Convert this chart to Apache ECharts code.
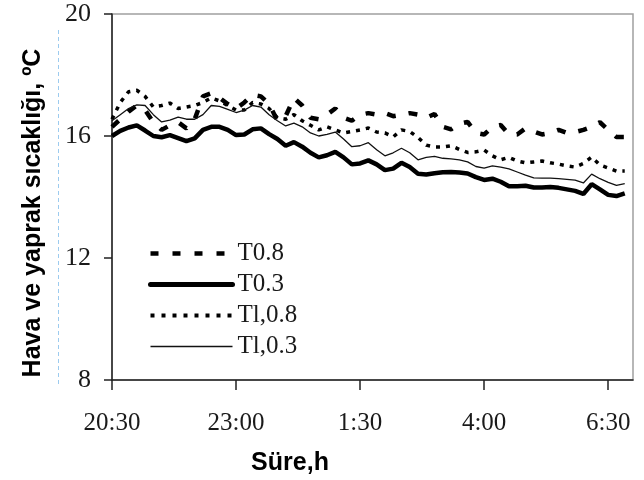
<!DOCTYPE html>
<html>
<head>
<meta charset="utf-8">
<script src="https://cdn.jsdelivr.net/npm/echarts@6/dist/echarts.min.js"></script>
<style>
html,body{margin:0;padding:0;background:#fff;}
#chart{width:644px;height:480px;}
</style>
</head>
<body>
<div id="chart"></div>
<script>
// minutes since 20:30
var minutes = [0,10,20,30,40,50,60,70,80,90,100,110,120,130,140,150,160,170,180,190,200,210,220,230,240,250,260,270,280,290,300,310,320,330,340,350,360,370,380,390,400,410,420,430,440,450,460,470,480,490,500,510,520,530,540,550,560,570,580,590,600,610,620];
var tickMinutes = [0,150,300,450,600];
var tickLabels = ['20:30','23:00','1:30','4:00','6:30'];
var seriesNames = ['T0.8','T0.3','Tl,0.8','Tl,0.3'];

var T08 = [16.3,16.55,16.8,17.0,16.85,16.45,16.2,16.35,16.45,16.25,16.55,17.3,17.4,17.25,17.05,16.9,17.1,17.35,17.3,17.05,16.5,16.65,17.25,17.0,16.6,16.55,16.7,16.9,16.6,16.5,16.7,16.75,16.7,16.75,16.65,16.7,16.75,16.7,16.6,16.72,16.3,16.22,16.4,16.46,16.1,16.05,16.3,16.36,16.05,16.05,16.25,16.15,16.05,16.1,16.2,16.1,16.13,16.2,16.3,16.45,16.2,15.97,15.97];
var T03 = [16.0,16.17,16.28,16.35,16.18,16.0,15.96,16.03,15.93,15.83,15.92,16.2,16.3,16.3,16.2,16.03,16.05,16.22,16.25,16.06,15.9,15.68,15.8,15.65,15.45,15.3,15.37,15.48,15.3,15.07,15.1,15.2,15.07,14.88,14.93,15.12,14.98,14.76,14.74,14.78,14.81,14.82,14.8,14.77,14.65,14.56,14.6,14.5,14.35,14.35,14.37,14.31,14.31,14.33,14.3,14.25,14.2,14.1,14.42,14.25,14.07,14.03,14.12];
var Tl08 = [16.55,17.1,17.45,17.5,17.3,16.95,17.0,17.08,16.9,16.95,17.0,17.1,17.25,17.15,17.0,16.85,16.85,17.1,17.05,16.9,16.6,16.55,16.7,16.5,16.35,16.2,16.3,16.2,16.1,16.15,16.2,16.26,16.13,16.1,15.97,16.2,16.15,15.95,15.7,15.64,15.64,15.68,15.56,15.46,15.48,15.54,15.35,15.22,15.3,15.18,15.12,15.15,15.18,15.12,15.08,15.02,14.98,15.1,15.31,15.05,14.95,14.85,14.85];
var Tl03 = [16.5,16.7,16.9,17.02,17.0,16.7,16.46,16.52,16.62,16.55,16.55,16.7,17.0,16.97,16.87,16.77,16.85,17.0,16.95,16.7,16.5,16.33,16.42,16.3,16.1,16.0,16.05,16.13,15.9,15.65,15.68,15.78,15.55,15.35,15.45,15.6,15.45,15.22,15.3,15.33,15.27,15.25,15.22,15.15,15.0,14.95,15.02,14.98,14.92,14.82,14.72,14.63,14.62,14.62,14.6,14.58,14.55,14.46,14.75,14.6,14.48,14.38,14.44];
var yTicks = [8,12,16,20];

function pairs(vals){ return minutes.map(function(m,i){ return [m, vals[i]]; }); }

var chart = echarts.init(document.getElementById('chart'), null, {renderer:'canvas'});
var serif = '"Liberation Serif","DejaVu Serif",serif';

var styles = [
  {color:'#000', width:4.5, type:[9,13]},
  {color:'#000', width:4.5, type:'solid'},
  {color:'#000', width:3.5, type:[4,6]},
  {color:'#111', width:1.3, type:'solid'}
];
var legendStyles = [
  {color:'#000', width:4.5, type:[8,14]},
  {color:'#000', width:5, type:'solid', cap:'round'},
  {color:'#000', width:4, type:[4,7]},
  {color:'#111', width:1.5, type:'solid'}
];

chart.setOption({
  animation:false,
  backgroundColor:'#ffffff',
  grid:{left:112, right:11, top:14, bottom:100, show:true, borderColor:'#a0a0a0', borderWidth:1.5, backgroundColor:'transparent'},
  legend:{
    data:seriesNames.map(function(n,i){ return {name:n, lineStyle:legendStyles[i], itemStyle:{opacity:0}}; }),
    orient:'vertical', left:143, top:236,
    itemWidth:82, itemHeight:20, itemGap:6,
    itemStyle:{opacity:0},
    textStyle:{fontFamily:serif, fontSize:25, color:'#1a1a1a', lineHeight:21}
  },
  xAxis:{
    type:'value', min:0, max:630, interval:150,
    axisLine:{lineStyle:{color:'#222', width:1.5}},
    axisTick:{show:true, inside:false, length:10, lineStyle:{color:'#222', width:1.5}, customValues:tickMinutes},
    axisLabel:{margin:31, fontFamily:serif, fontSize:25, color:'#1a1a1a', customValues:tickMinutes,
      formatter:function(v){ var i = tickMinutes.indexOf(v); return i>=0 ? tickLabels[i] : ''; }},
    splitLine:{show:false}
  },
  yAxis:{
    type:'value', min:yTicks[0], max:yTicks[yTicks.length-1], interval:4,
    axisLine:{show:true, lineStyle:{color:'#222', width:1.5}},
    axisTick:{show:true, inside:false, length:8, lineStyle:{color:'#222', width:1.5}},
    axisLabel:{margin:21, fontFamily:serif, fontSize:26, color:'#1a1a1a'},
    splitLine:{show:false}
  },
  graphic:[
    {type:'text', x:33, y:213, rotation:Math.PI/2, style:{text:'Hava ve yaprak sıcaklığı, ºC', font:'bold 25px "Liberation Sans", Arial, sans-serif', fill:'#000', align:'center', verticalAlign:'middle'}},
    {type:'text', x:290, y:463, style:{text:'Süre,h', font:'bold 25px "Liberation Sans", Arial, sans-serif', fill:'#000', align:'center', verticalAlign:'middle'}},
    {type:'line', shape:{x1:58.5, y1:30, x2:58.5, y2:387}, style:{stroke:'#9ccbef', lineWidth:1, lineDash:[4,3]}}
  ],
  series:[
    {name:seriesNames[0], type:'line', data:pairs(T08), symbol:'none', color:'#000', lineStyle:styles[0], z:3},
    {name:seriesNames[1], type:'line', data:pairs(T03), symbol:'none', color:'#000', lineStyle:styles[1], z:4},
    {name:seriesNames[2], type:'line', data:pairs(Tl08), symbol:'none', color:'#000', lineStyle:styles[2], z:3},
    {name:seriesNames[3], type:'line', data:pairs(Tl03), symbol:'none', color:'#000', lineStyle:styles[3], z:5}
  ]
});
</script>
</body>
</html>
